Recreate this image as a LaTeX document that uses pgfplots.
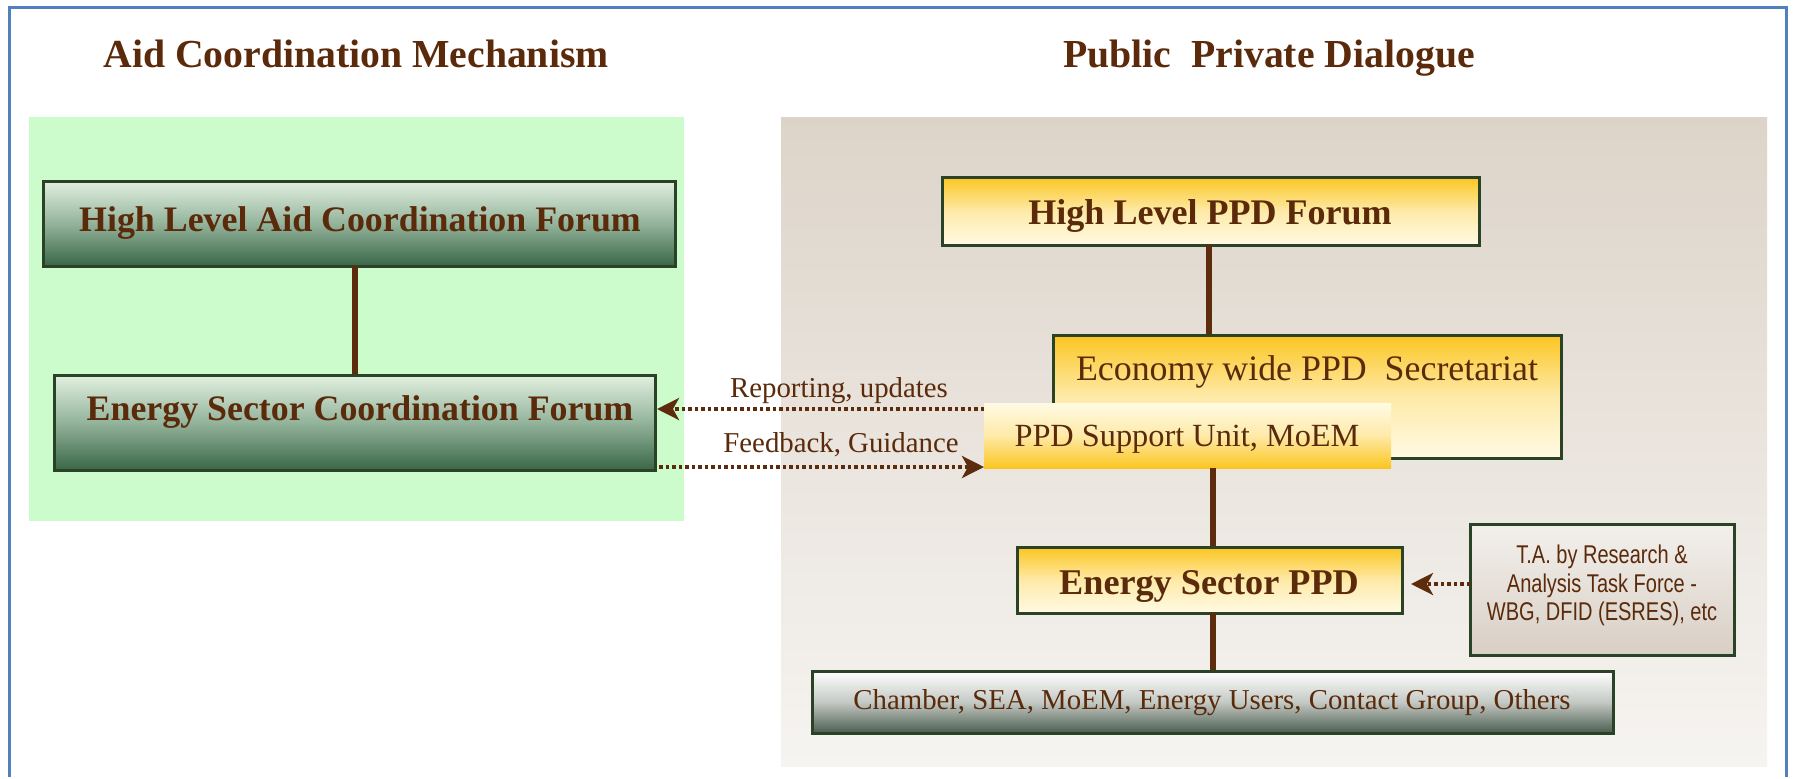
\documentclass[border=0pt]{standalone}
\usepackage{pgfplots}
\pgfplotsset{compat=1.18}
\usepackage{fontspec}
\setmainfont{Liberation Serif}
\newfontfamily\narrowsans[FakeStretch=0.78]{Liberation Sans}
\usetikzlibrary{arrows.meta}
\definecolor{txt}{HTML}{5A2A0A}
\definecolor{conn}{HTML}{5C2C0C}
\definecolor{greenbg}{HTML}{CCFCCC}
\definecolor{bd}{HTML}{2A4226}
\definecolor{gtop}{HTML}{E2F0E0}
\definecolor{gmid}{HTML}{93B39B}
\definecolor{gbot}{HTML}{3A6747}
\definecolor{gold}{HTML}{FBC520}
\definecolor{goldmid}{HTML}{FEEAA8}
\definecolor{cream}{HTML}{FFFAE4}
\definecolor{beigetop}{HTML}{DDD4C9}
\definecolor{beigebot}{HTML}{F6F4F1}
\definecolor{frame}{HTML}{4F81BD}
\definecolor{chtop}{HTML}{FFFFFF}
\definecolor{chmid}{HTML}{C4C9C4}
\definecolor{chbot}{HTML}{4B5D50}
\definecolor{tatop}{HTML}{F3F0EC}
\definecolor{tabot}{HTML}{D8CFC5}
\newcommand{\fs}[1]{\fontsize{#1}{#1}\selectfont}
\begin{document}
\begin{tikzpicture}
\begin{axis}[
  width=179.3mm, height=77.7mm, scale only axis,
  xmin=0, xmax=1793, ymin=0, ymax=777, y dir=reverse,
  axis lines=none, clip=false,
]
% background
\fill[white] (axis cs:0,0) rectangle (axis cs:1793,777);
% frame
\draw[frame, line width=0.3mm] (axis cs:9,777) -- (axis cs:9,7) -- (axis cs:1786,7) -- (axis cs:1786,777);
% titles
\node[text=txt, font=\bfseries\fs{11.3pt}, anchor=base] at (axis cs:356,67) {Aid Coordination Mechanism};
\node[text=txt, font=\bfseries\fs{11.3pt}, anchor=base] at (axis cs:1269,67) {Public\ \ Private Dialogue};
% left panel
\fill[greenbg] (axis cs:29,117) rectangle (axis cs:684,521);
\shade[top color=gtop, bottom color=gbot, middle color=gmid] (axis cs:43,181) rectangle (axis cs:675,266);
\draw[bd, line width=0.3mm] (axis cs:43,181) rectangle (axis cs:675,266);
\addplot[conn, line width=0.6mm] coordinates {(355,266) (355,375)};
\shade[top color=gtop, bottom color=gbot, middle color=gmid] (axis cs:54,375) rectangle (axis cs:655,470);
\draw[bd, line width=0.3mm] (axis cs:54,375) rectangle (axis cs:655,470);
\node[text=txt, font=\bfseries\fs{10.2pt}, anchor=base] at (axis cs:360,231) {High Level Aid Coordination Forum};
\node[text=txt, font=\bfseries\fs{10.2pt}, anchor=base] at (axis cs:360,420) {Energy Sector Coordination Forum};
% right panel
\shade[top color=beigetop, bottom color=beigebot] (axis cs:781,117) rectangle (axis cs:1767,766);
% HL PPD
\shade[top color=gold, bottom color=cream, middle color=goldmid] (axis cs:942,177) rectangle (axis cs:1479,245);
\draw[bd, line width=0.3mm] (axis cs:942,177) rectangle (axis cs:1479,245);
\node[text=txt, font=\bfseries\fs{10.25pt}, anchor=base] at (axis cs:1210,224) {High Level PPD Forum};
\addplot[conn, line width=0.6mm] coordinates {(1209,245) (1209,335)};
% Economy wide
\shade[top color=gold, bottom color=cream, middle color=goldmid] (axis cs:1053,335) rectangle (axis cs:1561,458);
\draw[bd, line width=0.3mm] (axis cs:1053,335) rectangle (axis cs:1561,458);
\node[text=txt, font=\fs{10.2pt}, anchor=base] at (axis cs:1307,380) {Economy wide PPD\ \ Secretariat};
% Support unit
\shade[top color=cream, bottom color=gold, middle color=goldmid] (axis cs:984,403) rectangle (axis cs:1391,468);
\node[text=txt, font=\fs{9.2pt}, anchor=base] at (axis cs:1187,446) {PPD Support Unit, MoEM};
\addplot[conn, line width=0.6mm] coordinates {(1213,468) (1213,547)};
% Energy sector PPD
\shade[top color=gold, bottom color=cream, middle color=goldmid] (axis cs:1017,547) rectangle (axis cs:1402,613);
\draw[bd, line width=0.3mm] (axis cs:1017,547) rectangle (axis cs:1402,613);
\node[text=txt, font=\bfseries\fs{10.3pt}, anchor=base] at (axis cs:1209,594) {Energy Sector PPD};
\addplot[conn, line width=0.6mm] coordinates {(1213,613) (1213,671)};
% Chamber
\shade[top color=chtop, bottom color=chbot, middle color=chmid] (axis cs:812,671) rectangle (axis cs:1613,733);
\draw[bd, line width=0.3mm] (axis cs:812,671) rectangle (axis cs:1613,733);
\node[text=txt, font=\fs{8.2pt}, anchor=base] at (axis cs:1212,709) {Chamber, SEA, MoEM, Energy Users, Contact Group, Others};
% TA box
\shade[top color=tatop, bottom color=tabot] (axis cs:1470,524) rectangle (axis cs:1734,655);
\draw[bd, line width=0.3mm] (axis cs:1470,524) rectangle (axis cs:1734,655);
\node[text=txt, font=\narrowsans\fs{7.3pt}, anchor=base] at (axis cs:1602,563) {T.A. by Research \&};
\node[text=txt, font=\narrowsans\fs{7.3pt}, anchor=base] at (axis cs:1602,592) {Analysis Task Force -};
\node[text=txt, font=\narrowsans\fs{7.3pt}, anchor=base] at (axis cs:1602,620) {WBG, DFID (ESRES), etc};
% dotted arrows
\addplot[conn, line width=0.4mm, dash pattern=on 0.35mm off 0.3mm, -{Stealth[length=2.2mm,width=2.2mm,inset=0.6mm]}] coordinates {(984,409) (657,409)};
\addplot[conn, line width=0.4mm, dash pattern=on 0.35mm off 0.3mm, -{Stealth[length=2.2mm,width=2.2mm,inset=0.6mm]}] coordinates {(659,467) (984,467)};
\addplot[conn, line width=0.4mm, dash pattern=on 0.35mm off 0.3mm, -{Stealth[length=2.2mm,width=2.2mm,inset=0.6mm]}] coordinates {(1470,584) (1411,584)};
\node[text=txt, font=\fs{8.2pt}, anchor=base] at (axis cs:839,397) {Reporting, updates};
\node[text=txt, font=\fs{8.2pt}, anchor=base] at (axis cs:841,452) {Feedback, Guidance};
\end{axis}
\end{tikzpicture}
\end{document}
